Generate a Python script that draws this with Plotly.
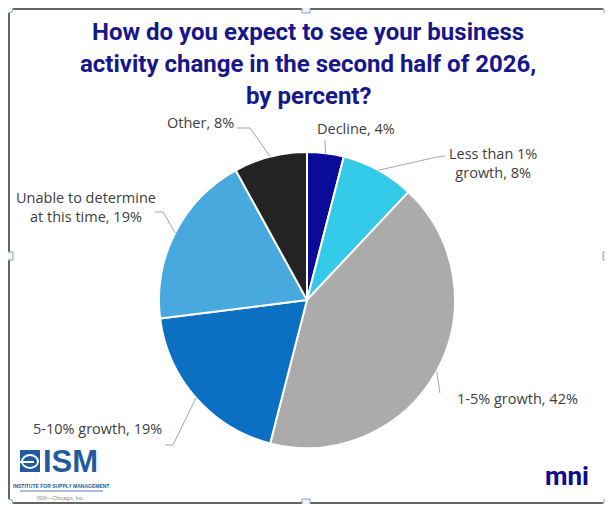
import math
import plotly.graph_objects as go

# survey answers, clockwise from 12 o'clock
categories = ["Decline", "Less than 1% growth", "1-5% growth", "5-10% growth",
              "Unable to determine at this time", "Other"]
label_text = ["Decline, 4%", "Less than 1%<br>growth, 8%", "1-5% growth, 42%",
              "5-10% growth, 19%", "Unable to determine<br>at this time, 19%", "Other, 8%"]
percents = [4, 8, 42, 19, 19, 8]
colors = ["#0B0B99", "#33C9E9", "#ABABAB", "#0B6FC2", "#48A9DE", "#232323"]

# page puts the plot 8px in from the top-left (body margin), so work in window px and shift;
# keep the figure short enough that the page doesn't scroll
OFF = 8
W, H = 613 - OFF, 496
cx, cy, r = 307, 300, 148  # pie centre / radius in window px


def px(x, y):
    return (x - OFF) / W, 1 - (y - OFF) / H


# label placement (px) and leader elbows (px), per slice
label_pos = [(356, 128, "center"), (493, 163, "center"), (455, 398, "left"),
             (164, 428, "right"), (86, 207, "center"), (200, 123, "center")]
leader_pts = [[(325, 140)], [(437, 157), (445, 156)], [(440, 393)],
              [(173, 445), (165, 445)], [(163, 212), (155, 212)], [(250, 128), (237, 128)]]

dx0, dy0 = px(cx - r, cy + r)
dx1, dy1 = px(cx + r, cy - r)
fig = go.Figure(go.Pie(
    labels=categories,
    values=percents,
    sort=False,
    direction="clockwise",
    rotation=0,
    marker=dict(colors=colors, line=dict(color="white", width=2)),
    textinfo="none",
    hoverinfo="label+percent",
    showlegend=False,
    domain=dict(x=[dx0, dx1], y=[dy0, dy1]),
))

shapes = []
annotations = []

# leader lines start at the mid-angle of each slice on the pie edge
total = sum(percents)
cum = 0
for i, v in enumerate(percents):
    mid = (cum + v / 2) / total * 2 * math.pi
    cum += v
    ex, ey = cx + r * math.sin(mid), cy - r * math.cos(mid)
    pts = [(ex, ey)] + leader_pts[i]
    path = "M " + " L ".join("%.4f,%.4f" % px(x, y) for x, y in pts)
    shapes.append(dict(type="path", path=path, xref="paper", yref="paper",
                       line=dict(color="#A6A6A6", width=1)))
    lx, ly, anchor = label_pos[i]
    annotations.append(dict(text=label_text[i], x=px(lx, ly)[0], y=px(lx, ly)[1],
                            xref="paper", yref="paper", showarrow=False,
                            xanchor=anchor, yanchor="middle", align="center",
                            font=dict(family="Open Sans", size=14.5, color="#404040")))

# title, three lines
title_lines = ["How do you expect to see your business",
               "activity change in the second half of 2026,",
               "by percent?"]
for k, t in enumerate(title_lines):
    annotations.append(dict(text="<b>%s</b>" % t, x=px(308, 0)[0], y=px(0, 32 + 32 * k)[1],
                            xref="paper", yref="paper", showarrow=False,
                            xanchor="center", yanchor="middle",
                            font=dict(family="Roboto", size=24, color="#17178C")))

# logos
annotations += [
    dict(text="<b>ISM</b>", x=px(41, 0)[0], y=px(0, 461)[1], xanchor="left", yanchor="middle",
         font=dict(family="Liberation Sans", size=31, color="#1F5B9E")),
    dict(text="<b>INSTITUTE FOR SUPPLY MANAGEMENT</b>", x=px(61, 0)[0], y=px(0, 486)[1],
         xanchor="center", yanchor="middle",
         font=dict(family="Liberation Sans", size=5, color="#1F5B9E")),
    dict(text="ISM—Chicago, Inc.", x=px(61, 0)[0], y=px(0, 498)[1], xanchor="center",
         yanchor="middle", font=dict(family="Liberation Sans", size=5.5, color="#8A8A8A")),
    dict(text="<b>mni</b>", x=px(591, 0)[0], y=px(0, 476)[1], xanchor="right", yanchor="middle",
         font=dict(family="Roboto", size=26, color="#0D0D8A")),
]
for a in annotations[-4:]:
    a.update(xref="paper", yref="paper", showarrow=False)

# ISM icon
x0, y0 = px(20, 472)
x1, y1 = px(40, 450)
shapes.append(dict(type="rect", xref="paper", yref="paper", x0=x0, y0=y0, x1=x1, y1=y1,
                   fillcolor="#1F5B9E", line=dict(width=0)))
ex0, ey0 = px(22, 468)
ex1, ey1 = px(38, 455)
shapes.append(dict(type="circle", xref="paper", yref="paper", x0=ex0, y0=ey0, x1=ex1, y1=ey1,
                   line=dict(color="white", width=2)))
lx0, ly0 = px(20, 462)
lx1, _ = px(34, 462)
shapes.append(dict(type="line", xref="paper", yref="paper", x0=lx0, y0=ly0, x1=lx1, y1=ly0,
                   line=dict(color="white", width=2)))
lx0, ly0 = px(20, 491)
lx1, _ = px(103, 491)
shapes.append(dict(type="line", xref="paper", yref="paper", x0=lx0, y0=ly0, x1=lx1, y1=ly0,
                   line=dict(color="#5B7FB0", width=1)))

# frame with selection handles
fx0, fy0 = px(9, 503)
fx1, fy1 = px(607, 9)
shapes.append(dict(type="rect", xref="paper", yref="paper", x0=fx0, y0=fy0, x1=fx1, y1=fy1,
                   line=dict(color="#333333", width=1.5)))
for hx, hy, kind in [(9, 9, "circle"), (306, 9, "rect"), (607, 9, "circle"),
                     (9, 256, "rect"), (607, 256, "rect"),
                     (9, 503, "circle"), (306, 503, "rect"), (607, 503, "circle")]:
    a0, b0 = px(hx - 4, hy + 4)
    a1, b1 = px(hx + 4, hy - 4)
    shapes.append(dict(type=kind, xref="paper", yref="paper", x0=a0, y0=b0, x1=a1, y1=b1,
                       fillcolor="#EEF3F8", line=dict(color="#8DA2B8", width=1)))

fig.update_layout(
    width=W, height=H,
    margin=dict(l=0, r=0, t=0, b=0),
    paper_bgcolor="white",
    plot_bgcolor="white",
    shapes=shapes,
    annotations=annotations,
)
fig.write_html("out.html")
